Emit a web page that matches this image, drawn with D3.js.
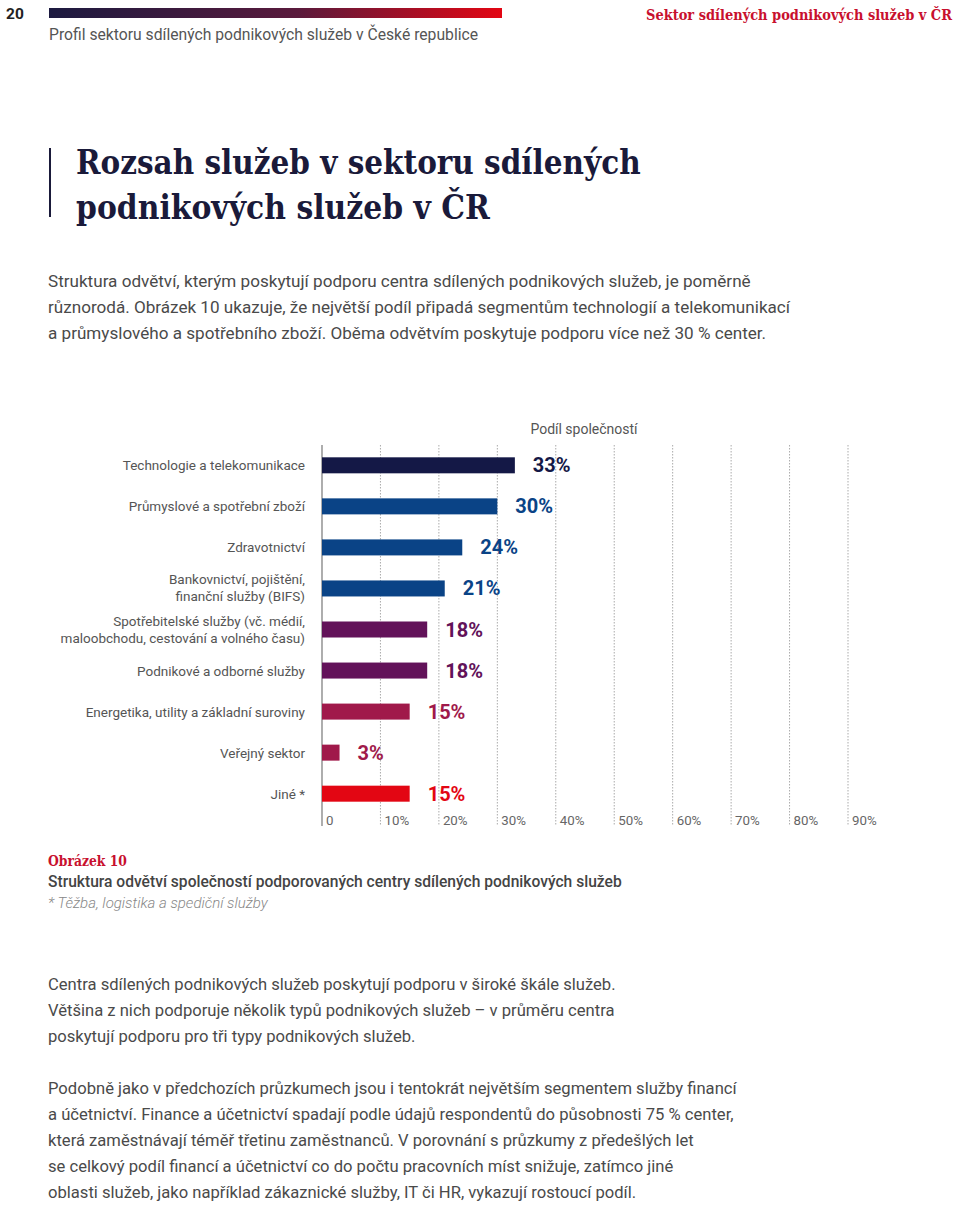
<!DOCTYPE html>
<html>
<head>
<meta charset="utf-8">
<script src="https://cdn.jsdelivr.net/npm/d3@7"></script>
<style>
  body { margin: 0; background: #fff; }
  svg { display: block; }
</style>
</head>
<body>
<svg id="page" width="960" height="1205"></svg>
<script>
// data
const categories = [
  ["Technologie a telekomunikace"],
  ["Průmyslové a spotřební zboží"],
  ["Zdravotnictví"],
  ["Bankovnictví, pojištění,", "finanční služby (BIFS)"],
  ["Spotřebitelské služby (vč. médií,", "maloobchodu, cestování a volného času)"],
  ["Podnikové a odborné služby"],
  ["Energetika, utility a základní suroviny"],
  ["Veřejný sektor"],
  ["Jiné *"]
];
const values = [33, 30, 24, 21, 18, 18, 15, 3, 15];
const barColors = ["#141846", "#0a4386", "#0a4386", "#0a4386", "#621259", "#621259", "#a0194a", "#a0194a", "#e30613"];
const tickValues = [0, 10, 20, 30, 40, 50, 60, 70, 80, 90];
const tickLabels = ["0", "10%", "20%", "30%", "40%", "50%", "60%", "70%", "80%", "90%"];

const intro = [
  "Struktura odvětví, kterým poskytují podporu centra sdílených podnikových služeb, je poměrně",
  "různorodá. Obrázek 10 ukazuje, že největší podíl připadá segmentům technologií a telekomunikací",
  "a průmyslového a spotřebního zboží. Oběma odvětvím poskytuje podporu více než 30 % center."
];
const outro1 = [
  "Centra sdílených podnikových služeb poskytují podporu v široké škále služeb.",
  "Většina z nich podporuje několik typů podnikových služeb – v průměru centra",
  "poskytují podporu pro tři typy podnikových služeb."
];
const outro2 = [
  "Podobně jako v předchozích průzkumech jsou i tentokrát největším segmentem služby financí",
  "a účetnictví. Finance a účetnictví spadají podle údajů respondentů do působnosti 75 % center,",
  "která zaměstnávají téměř třetinu zaměstnanců. V porovnání s průzkumy z předešlých let",
  "se celkový podíl financí a účetnictví co do počtu pracovních míst snižuje, zatímco jiné",
  "oblasti služeb, jako například zákaznické služby, IT či HR, vykazují rostoucí podíl."
];

const svg = d3.select("#page");
const sans = "Roboto, 'Noto Sans', sans-serif";
const slab = "'DejaVu Serif', 'Liberation Serif', serif";

// squeeze a text horizontally so it spans the given width
function fitWidth(sel, w) {
  const n = sel.node().getComputedTextLength();
  const x0 = +sel.attr("x"), y0 = +sel.attr("y");
  const k = w / n;
  const anchor = sel.attr("text-anchor") || "start";
  sel.attr("transform", `translate(${x0},${y0}) scale(${k},1) translate(${-x0},${-y0})`);
  return sel;
}

// header
const grad = svg.append("defs").append("linearGradient").attr("id", "hdr");
grad.append("stop").attr("offset", "0%").attr("stop-color", "#1c1a40");
grad.append("stop").attr("offset", "55%").attr("stop-color", "#5a1a3c");
grad.append("stop").attr("offset", "100%").attr("stop-color", "#e30613");
svg.append("rect").attr("x", 49).attr("y", 8).attr("width", 453).attr("height", 10).attr("fill", "url(#hdr)");
svg.append("text").attr("x", 6).attr("y", 19).text("20")
  .attr("font-family", sans).attr("font-weight", 700).attr("font-size", 15.5).attr("fill", "#222");
fitWidth(svg.append("text").attr("x", 952).attr("y", 20).attr("text-anchor", "end")
  .text("Sektor sdílených podnikových služeb v ČR")
  .attr("font-family", slab).attr("font-weight", 700).attr("font-size", 14).attr("fill", "#c8102e"), 306);
svg.append("text").attr("x", 49).attr("y", 40).text("Profil sektoru sdílených podnikových služeb v České republice")
  .attr("font-family", sans).attr("font-size", 15.7).attr("fill", "#555");

// title
svg.append("line").attr("x1", 50).attr("x2", 50).attr("y1", 148).attr("y2", 217)
  .attr("stroke", "#1a1a3a").attr("stroke-width", 2);
[["Rozsah služeb v sektoru sdílených", 174, 565], ["podnikových služeb v ČR", 219, 414]].forEach(([t, y, w]) => {
  fitWidth(svg.append("text").attr("x", 76).attr("y", y).text(t)
    .attr("font-family", slab).attr("font-weight", 700).attr("font-size", 33).attr("fill", "#1a1a3a"), w);
});

function para(lines, y0, size) {
  lines.forEach((t, i) => {
    svg.append("text").attr("x", 48).attr("y", y0 + i * 26).text(t)
      .attr("font-family", sans).attr("font-size", size).attr("fill", "#4a4a4a");
  });
}
para(intro, 287, 17.1);
para(outro1, 990, 16.6);
para(outro2, 1094, 16.6);

// chart
const x = d3.scaleLinear().domain([0, 90]).range([322, 848]);
const y = d3.scaleBand().domain(d3.range(values.length)).range([445, 814]).paddingInner(0.61).paddingOuter(0.3);
const g = svg.append("g");

g.selectAll("line.grid").data(tickValues.slice(1)).join("line")
  .attr("class", "grid")
  .attr("x1", d => x(d)).attr("x2", d => x(d))
  .attr("y1", 445).attr("y2", 826)
  .attr("stroke", "#aaa").attr("stroke-width", 1).attr("stroke-dasharray", "1.5,1.5");

g.append("line").attr("x1", x(0)).attr("x2", x(0)).attr("y1", 445).attr("y2", 826)
  .attr("stroke", "#777").attr("stroke-width", 1.2);

g.append("text").attr("x", 584).attr("y", 434).attr("text-anchor", "middle").text("Podíl společností")
  .attr("font-family", sans).attr("font-size", 14).attr("fill", "#555");

g.selectAll("rect.bar").data(values).join("rect")
  .attr("class", "bar")
  .attr("x", x(0)).attr("y", (d, i) => y(i))
  .attr("width", d => x(d) - x(0)).attr("height", y.bandwidth())
  .attr("fill", (d, i) => barColors[i]);

g.selectAll("text.val").data(values).join("text")
  .attr("class", "val")
  .attr("x", d => x(d) + 18).attr("y", (d, i) => y(i) + y.bandwidth() / 2 + 7)
  .text(d => d + "%")
  .attr("font-family", sans).attr("font-weight", 700).attr("font-size", 20)
  .attr("fill", (d, i) => barColors[i]);

categories.forEach((lines, i) => {
  const cy = y(i) + y.bandwidth() / 2;
  const t = g.append("text").attr("text-anchor", "end")
    .attr("font-family", sans).attr("font-size", 13.5).attr("fill", "#555");
  lines.forEach((l, j) => {
    const off = lines.length === 1 ? 5 : (j === 0 ? -4 : 13);
    t.append("tspan").attr("x", 305).attr("y", cy + off).text(l);
  });
});

g.selectAll("text.tick").data(tickValues).join("text")
  .attr("class", "tick")
  .attr("x", d => x(d) + 4).attr("y", 825)
  .text((d, i) => tickLabels[i])
  .attr("font-family", sans).attr("font-size", 13.3).attr("fill", "#666");

// caption
fitWidth(svg.append("text").attr("x", 48).attr("y", 866).text("Obrázek 10")
  .attr("font-family", slab).attr("font-weight", 700).attr("font-size", 15).attr("fill", "#c8102e"), 79);
svg.append("text").attr("x", 48).attr("y", 887).text("Struktura odvětví společností podporovaných centry sdílených podnikových služeb")
  .attr("font-family", sans).attr("font-weight", 500).attr("font-size", 15.6).attr("fill", "#444");
svg.append("text").attr("x", 48).attr("y", 908).text("* Těžba, logistika a spediční služby")
  .attr("font-family", sans).attr("font-style", "italic").attr("font-weight", 300).attr("font-size", 15).attr("fill", "#888");
</script>
</body>
</html>
